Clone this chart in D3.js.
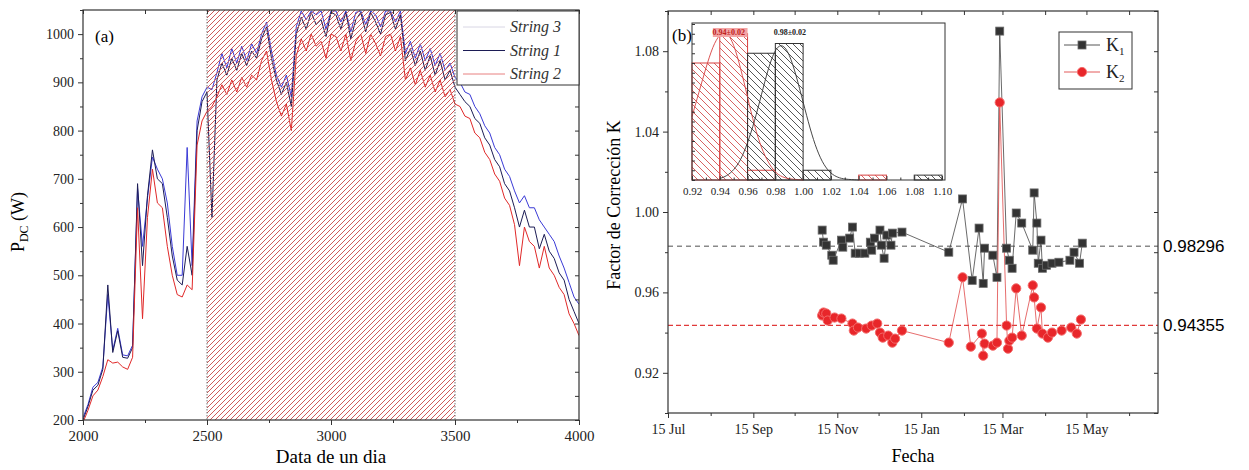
<!DOCTYPE html>
<html><head><meta charset="utf-8">
<script src="https://cdn.jsdelivr.net/npm/d3@7"></script>
<style>body{margin:0;background:#fff} svg{display:block}</style>
</head><body><svg id="c" width="1249" height="470"></svg>
<script>
// ---------- Panel (a) data ----------
const timeStart = 2000, timeEnd = 4000, timeStep = 20;
const xTicksA = [2000, 2500, 3000, 3500, 4000];
const yTicksA = [200, 300, 400, 500, 600, 700, 800, 900, 1000];
const shadedRange = [2500, 3500];
const seriesNames = ["String 3", "String 1", "String 2"];
const string1 = [200,228,262,272,305,480,340,385,330,328,350,690,520,665,760,700,690,620,540,490,480,560,500,800,860,880,
  620,905,940,915,950,925,960,935,965,950,990,1015,950,905,875,900,850,
  1000,1035,1010,1045,1020,1030,995,1045,1040,1010,1045,990,1030,1045,1005,1045,1025,1000,1040,1045,1010,1040,
  945,970,935,965,925,955,915,945,905,925,890,
  875,860,850,825,815,785,770,740,725,690,675,640,600,635,600,600,555,585,550,535,505,490,450,425,400];
const string3 = [205,232,268,278,310,460,345,390,335,333,355,680,560,660,745,720,700,650,560,500,500,765,520,820,870,890,
  885,920,960,930,970,940,975,945,980,960,1000,1025,965,915,890,915,870,
  1015,1048,1030,1048,1040,1048,1010,1048,1048,1025,1048,1005,1045,1048,1020,1048,1040,1015,1048,1048,1025,1048,
  960,985,950,980,945,970,935,960,925,940,910,
  900,880,875,850,835,810,795,765,750,720,705,675,650,665,640,640,615,600,585,570,540,515,485,455,440];
const string2 = [195,220,250,262,290,325,318,320,310,305,330,640,410,620,720,650,640,560,500,460,455,480,470,770,820,840,
  850,870,895,875,905,880,910,890,915,905,945,965,905,860,830,855,800,
  955,990,965,1000,975,985,950,1000,995,965,1000,945,985,1000,960,1000,980,955,995,1000,965,995,
  905,930,895,925,890,915,880,905,870,885,855,
  850,830,825,795,785,755,740,710,695,660,645,605,520,600,570,560,515,560,515,500,475,460,420,400,375];

// ---------- Panel (b) data ----------
const k1Dates = ["2018-11-04","2018-11-05","2018-11-07","2018-11-11","2018-11-12","2018-11-18","2018-11-19","2018-11-24","2018-11-26","2018-11-28","2018-12-01","2018-12-05","2018-12-09","2018-12-10","2018-12-12","2018-12-16","2018-12-17","2018-12-19","2018-12-21","2018-12-24","2018-12-25","2019-01-01","2019-02-04","2019-02-14","2019-02-21","2019-02-26","2019-03-01","2019-03-02","2019-03-08","2019-03-11","2019-03-13","2019-03-18","2019-03-20","2019-03-22","2019-03-25","2019-03-29","2019-04-06","2019-04-07","2019-04-09","2019-04-10","2019-04-12","2019-04-13","2019-04-16","2019-04-20","2019-04-25","2019-05-03","2019-05-06","2019-05-10","2019-05-12"];
const k1Values = [0.991,0.985,0.9835,0.9785,0.976,0.986,0.9825,0.987,0.9925,0.9795,0.9795,0.9795,0.985,0.981,0.987,0.991,0.9835,0.977,0.9885,0.9835,0.9895,0.990,0.980,1.0065,0.966,0.992,0.9645,0.982,0.9785,0.9675,1.090,0.982,0.976,0.972,0.9995,0.9945,0.981,1.0095,0.9945,0.9745,0.986,0.972,0.9735,0.9745,0.975,0.976,0.980,0.9745,0.9845];
const k2Dates = ["2018-11-04","2018-11-05","2018-11-07","2018-11-08","2018-11-13","2018-11-18","2018-11-26","2018-11-27","2018-11-30","2018-12-06","2018-12-10","2018-12-14","2018-12-16","2018-12-18","2018-12-22","2018-12-25","2018-12-27","2019-01-01","2019-02-04","2019-02-14","2019-02-20","2019-02-28","2019-03-01","2019-03-02","2019-03-08","2019-03-11","2019-03-13","2019-03-18","2019-03-19","2019-03-20","2019-03-22","2019-03-25","2019-03-29","2019-04-06","2019-04-07","2019-04-09","2019-04-12","2019-04-13","2019-04-17","2019-04-20","2019-04-27","2019-05-04","2019-05-08","2019-05-11"];
const k2Values = [0.9485,0.950,0.9495,0.946,0.9475,0.947,0.9445,0.941,0.9425,0.942,0.9435,0.9445,0.940,0.9375,0.9385,0.935,0.937,0.941,0.935,0.9675,0.933,0.9395,0.9285,0.9345,0.9335,0.935,1.0545,0.9435,0.932,0.936,0.9375,0.962,0.9385,0.9635,0.9575,0.942,0.9525,0.9395,0.9375,0.940,0.941,0.9425,0.9395,0.9465];
const meanK1 = 0.98296, meanK2 = 0.94355;
const dateTicks = ["2018-07-15","2018-09-15","2018-11-15","2019-01-15","2019-03-15","2019-05-15"];
const dateMinor = ["2018-08-15","2018-10-15","2018-12-15","2019-02-15","2019-04-15","2019-06-15"];
const yTicksB = [0.92, 0.96, 1.00, 1.04, 1.08];
const yMinorB = [0.90, 0.94, 0.98, 1.02, 1.06, 1.10];
// inset histogram
const binStarts = [0.92,0.94,0.96,0.98,1.00,1.02,1.04,1.06,1.08];
const k1Counts = [0,0,26,28,2,0,0,0,1];
const k2Counts = [24,30,2,0,0,0,1,0,0];
const k2CurveX = [0.92,0.925,0.93,0.935,0.94,0.945,0.95,0.955,0.96,0.965,0.97,0.975,0.98,0.985,0.99,1.00];
const k2CurveY = [13,18,23,27.5,30,30.5,28,23,17,11,6.5,3.5,1.5,0.6,0.2,0];
const k1CurveX = [0.94,0.945,0.95,0.955,0.96,0.965,0.97,0.975,0.98,0.985,0.99,0.995,1.00,1.005,1.01,1.015,1.02,1.025,1.03,1.04];
const k1CurveY = [0.3,0.8,2,4,7.5,12,17.5,23,27,28,26,21.5,16,10.5,6,3,1.3,0.5,0.15,0];
const insetTicks = [0.92,0.94,0.96,0.98,1.00,1.02,1.04,1.06,1.08,1.10];

const svg = d3.select("#c");
const SERIF = "'Liberation Serif','Times New Roman',serif";
const SANS = "'Liberation Sans',Arial,sans-serif";
const defs = svg.append("defs");
defs.append("pattern").attr("id","hatchA").attr("patternUnits","userSpaceOnUse").attr("width",5).attr("height",5)
  .append("path").attr("d","M-1,1 l2,-2 M0,5 l5,-5 M4,6 l2,-2").attr("stroke","#cf5a5a").attr("stroke-width",1);
function hatchB(id, col){
  defs.append("pattern").attr("id",id).attr("patternUnits","userSpaceOnUse").attr("width",7).attr("height",7)
    .append("path").attr("d","M-1,6 l2,2 M0,0 l7,7 M6,-1 l2,2").attr("stroke",col).attr("stroke-width",0.9);
}
hatchB("hatchRed","#d45050"); hatchB("hatchBlk","#444");

function styleAxis(g, fs){
  g.select(".domain").remove();
  g.selectAll("line").attr("stroke","#333");
  g.selectAll("text").attr("font-family",SERIF).attr("font-size",fs).attr("fill","#222");
}

// ================= Panel (a) =================
const L = {l:83, r:579, t:10, b:420};
const xA = d3.scaleLinear().domain([timeStart,timeEnd]).range([L.l,L.r]);
const yA = d3.scaleLinear().domain([200,1050]).range([L.b,L.t]);
const tA = d3.range(timeStart, timeEnd+1, timeStep);

defs.append("clipPath").attr("id","clipA").append("rect").attr("x",L.l).attr("y",L.t).attr("width",L.r-L.l).attr("height",L.b-L.t);
const gA = svg.append("g").attr("clip-path","url(#clipA)");
const colorsA = {"String 3":"#3a3ad6","String 1":"#1c1c55","String 2":"#e02828"};
const dataA = {"String 3":string3,"String 1":string1,"String 2":string2};
const lineA = d3.line().x((d,i)=>xA(tA[i])).y(d=>yA(d));
["String 3","String 1","String 2"].forEach(n=>{
  gA.append("path").attr("d",lineA(dataA[n])).attr("fill","none").attr("stroke",colorsA[n]).attr("stroke-width",1);
});
gA.append("rect").attr("x",xA(shadedRange[0])).attr("y",L.t).attr("width",xA(shadedRange[1])-xA(shadedRange[0])).attr("height",L.b-L.t)
  .attr("fill","url(#hatchA)");
[shadedRange[0],shadedRange[1]].forEach(v=>{
  gA.append("line").attr("x1",xA(v)).attr("x2",xA(v)).attr("y1",L.t).attr("y2",L.b).attr("stroke","#555").attr("stroke-width",0.8).attr("stroke-dasharray","1.5,1.5");
});

// axes a
styleAxis(svg.append("g").attr("transform",`translate(0,${L.b})`).call(d3.axisBottom(xA).tickValues(xTicksA).tickSize(5).tickPadding(5).tickFormat(d3.format("d"))),15);
styleAxis(svg.append("g").attr("transform",`translate(0,${L.b})`).call(d3.axisBottom(xA).tickValues([2250,2750,3250,3750]).tickSize(3).tickFormat("")),15);
styleAxis(svg.append("g").attr("transform",`translate(${L.l},0)`).call(d3.axisLeft(yA).tickValues(yTicksA).tickSize(5).tickPadding(4).tickFormat(d3.format("d"))),14);
styleAxis(svg.append("g").attr("transform",`translate(${L.l},0)`).call(d3.axisLeft(yA).tickValues([250,350,450,550,650,750,850,950,1050]).tickSize(3).tickFormat("")),14);
styleAxis(svg.append("g").attr("transform",`translate(0,${L.t})`).call(d3.axisBottom(xA).tickValues(xTicksA.concat([2250,2750,3250,3750])).tickSize(4).tickFormat("")),14);
styleAxis(svg.append("g").attr("transform",`translate(${L.r},0)`).call(d3.axisLeft(yA).tickValues(d3.range(200,1051,50)).tickSize(4).tickFormat("")),14);
svg.append("rect").attr("x",L.l).attr("y",L.t).attr("width",L.r-L.l).attr("height",L.b-L.t).attr("fill","none").attr("stroke","#333").attr("stroke-width",1.2);

svg.append("text").attr("x",95).attr("y",42).attr("font-family",SERIF).attr("font-size",17).text("(a)");
svg.append("text").attr("x",(L.l+L.r)/2).attr("y",463).attr("text-anchor","middle").attr("font-family",SERIF).attr("font-size",19).text("Data de un dia");
const ylA = svg.append("text").attr("transform","translate(24,222) rotate(-90)").attr("text-anchor","middle").attr("font-family",SERIF).attr("font-size",18);
ylA.append("tspan").text("P");
ylA.append("tspan").attr("font-size",12).attr("dy",4).text("DC");
ylA.append("tspan").attr("dy",-4).text(" (W)");

// legend a
const lgA = svg.append("g");
lgA.append("rect").attr("x",457).attr("y",L.t+1).attr("width",L.r-457).attr("height",74).attr("fill","#fff").attr("stroke","#333").attr("stroke-width",1);
const legendLineColor = {"String 3":"#d8d6e4","String 1":"#1c1c55","String 2":"#e88080"};
seriesNames.forEach((n,i)=>{
  const y = 27 + i*23.5;
  lgA.append("line").attr("x1",463).attr("x2",505).attr("y1",y).attr("y2",y).attr("stroke",legendLineColor[n]).attr("stroke-width",1);
  lgA.append("text").attr("x",510).attr("y",y+5).attr("font-family",SERIF).attr("font-style","italic").attr("font-size",16).attr("fill","#333").text(n);
});

// ================= Panel (b) =================
const R = {l:668, r:1158, t:11, b:413};
const parse = d3.timeParse("%Y-%m-%d");
const xB = d3.scaleTime().domain([parse("2018-07-15"), parse("2019-07-06")]).range([R.l,R.r]);
const yB = d3.scaleLinear().domain([0.9,1.1]).range([R.b,R.t]);

styleAxis(svg.append("g").attr("transform",`translate(0,${R.b})`).call(d3.axisBottom(xB).tickValues(dateTicks.map(parse)).tickSize(5).tickPadding(6).tickFormat(d3.timeFormat("%-d %b"))),14);
styleAxis(svg.append("g").attr("transform",`translate(0,${R.b})`).call(d3.axisBottom(xB).tickValues(dateMinor.map(parse)).tickSize(3).tickFormat("")),14);
styleAxis(svg.append("g").attr("transform",`translate(${R.l},0)`).call(d3.axisLeft(yB).tickValues(yTicksB).tickSize(5).tickPadding(4).tickFormat(d3.format(".2f"))),14);
styleAxis(svg.append("g").attr("transform",`translate(${R.l},0)`).call(d3.axisLeft(yB).tickValues(yMinorB).tickSize(3).tickFormat("")),14);
styleAxis(svg.append("g").attr("transform",`translate(0,${R.t})`).call(d3.axisBottom(xB).tickValues(dateTicks.concat(dateMinor).map(parse)).tickSize(4).tickFormat("")),14);
styleAxis(svg.append("g").attr("transform",`translate(${R.r},0)`).call(d3.axisLeft(yB).tickValues(yTicksB.concat(yMinorB)).tickSize(4).tickFormat("")),14);

// mean dashed lines
svg.append("line").attr("x1",R.l).attr("x2",R.r).attr("y1",yB(meanK1)).attr("y2",yB(meanK1)).attr("stroke","#8a8a8a").attr("stroke-width",1.4).attr("stroke-dasharray","5,4");
svg.append("line").attr("x1",R.l).attr("x2",R.r).attr("y1",yB(meanK2)).attr("y2",yB(meanK2)).attr("stroke","#e03a3a").attr("stroke-width",1.2).attr("stroke-dasharray","5,3");
svg.append("text").attr("x",1163).attr("y",yB(meanK1)+6).attr("font-family",SANS).attr("font-size",17).text(meanK1.toFixed(5));
svg.append("text").attr("x",1163).attr("y",yB(meanK2)+6).attr("font-family",SANS).attr("font-size",17).text(meanK2.toFixed(5));

// series
const k1 = k1Dates.map((d,i)=>({d:parse(d), v:k1Values[i]}));
const k2 = k2Dates.map((d,i)=>({d:parse(d), v:k2Values[i]}));
const lineB = d3.line().x(p=>xB(p.d)).y(p=>yB(p.v));
svg.append("path").attr("d",lineB(k1)).attr("fill","none").attr("stroke","#444").attr("stroke-width",0.8);
svg.append("path").attr("d",lineB(k2)).attr("fill","none").attr("stroke","#e04848").attr("stroke-width",0.8);
svg.append("g").selectAll("rect").data(k1).join("rect")
  .attr("x",p=>xB(p.d)-4).attr("y",p=>yB(p.v)-4).attr("width",8).attr("height",8)
  .attr("fill","#333").attr("stroke","#6a6a6a").attr("stroke-width",0.8);
svg.append("g").selectAll("circle").data(k2).join("circle")
  .attr("cx",p=>xB(p.d)).attr("cy",p=>yB(p.v)).attr("r",4.6)
  .attr("fill","#e8262a").attr("stroke","#f46a6a").attr("stroke-width",1);

svg.append("rect").attr("x",R.l).attr("y",R.t).attr("width",R.r-R.l).attr("height",R.b-R.t).attr("fill","none").attr("stroke","#333").attr("stroke-width",1.2);

svg.append("text").attr("x",672).attr("y",41).attr("font-family",SERIF).attr("font-size",17).text("(b)");
svg.append("text").attr("x",(R.l+R.r)/2).attr("y",462).attr("text-anchor","middle").attr("font-family",SERIF).attr("font-size",18).text("Fecha");
svg.append("text").attr("transform","translate(620,205) rotate(-90)").attr("text-anchor","middle").attr("font-family",SERIF).attr("font-size",18).text("Factor de Corrección K");

// legend b
const lgB = svg.append("g");
lgB.append("rect").attr("x",1059).attr("y",32).attr("width",73).attr("height",57).attr("fill","#fff").attr("stroke","#333").attr("stroke-width",1);
[["1","#444","sq"],["2","#e04848","ci"]].forEach((e,i)=>{
  const y = 45 + i*27;
  lgB.append("line").attr("x1",1064).attr("x2",1100).attr("y1",y).attr("y2",y).attr("stroke",e[1]).attr("stroke-width",0.9);
  if(e[2]==="sq") lgB.append("rect").attr("x",1078).attr("y",y-4).attr("width",8).attr("height",8).attr("fill","#333").attr("stroke","#6a6a6a").attr("stroke-width",0.8);
  else lgB.append("circle").attr("cx",1082).attr("cy",y).attr("r",4.6).attr("fill","#e8262a").attr("stroke","#f46a6a");
  const t = lgB.append("text").attr("x",1106).attr("y",y+6).attr("font-family",SERIF).attr("font-size",18).attr("fill","#222");
  t.append("tspan").text("K");
  t.append("tspan").attr("font-size",11).attr("dy",4).text(e[0]);
});

// ---------- inset ----------
const I = {l:692, r:945, t:23, b:180};
const xI = d3.scaleLinear().domain([0.92,1.10]).range([I.l,942]);
const yI = d3.scaleLinear().domain([0,32]).range([I.b,I.t+1]);
svg.append("rect").attr("x",I.l).attr("y",I.t).attr("width",I.r-I.l).attr("height",I.b-I.t).attr("fill","#fff");
const gI = svg.append("g");
function bars(counts, pat, stroke){
  binStarts.forEach((b,i)=>{
    if(!counts[i]) return;
    gI.append("rect").attr("x",xI(b)).attr("y",yI(counts[i])).attr("width",xI(b+0.02)-xI(b)).attr("height",yI(0)-yI(counts[i]))
      .attr("fill",`url(#${pat})`).attr("stroke",stroke).attr("stroke-width",1);
  });
}
bars(k2Counts,"hatchRed","#d84040");
bars(k1Counts,"hatchBlk","#333");
const curveI = d3.line().curve(d3.curveBasis);
gI.append("path").attr("d",curveI(k2CurveX.map((x,i)=>[xI(x),yI(k2CurveY[i])]))).attr("fill","none").attr("stroke","#d84040").attr("stroke-width",0.9);
gI.append("path").attr("d",curveI(k1CurveX.map((x,i)=>[xI(x),yI(k1CurveY[i])]))).attr("fill","none").attr("stroke","#333").attr("stroke-width",0.9);
gI.append("rect").attr("x",xI(0.935)).attr("y",28).attr("width",xI(0.96)-xI(0.935)).attr("height",9).attr("fill","#f3a6a6");
gI.append("text").attr("x",xI(0.9465)).attr("y",35).attr("text-anchor","middle").attr("font-family",SERIF).attr("font-size",8).attr("font-weight","bold").attr("fill","#c02020").text("0.94±0.02");
gI.append("text").attr("x",xI(0.9905)).attr("y",35).attr("text-anchor","middle").attr("font-family",SERIF).attr("font-size",8).attr("font-weight","bold").attr("fill","#222").text("0.98±0.02");
const axI = svg.append("g").attr("transform",`translate(0,${I.b})`).call(d3.axisBottom(xI).tickValues(insetTicks).tickSize(3).tickPadding(4).tickFormat(d3.format(".2f")));
axI.selectAll(".tick line").attr("y1",-4).attr("y2",0);
styleAxis(axI,11);
const axI2 = svg.append("g").attr("transform",`translate(0,${I.b})`).call(d3.axisBottom(xI).tickValues([0.93,0.95,0.97,0.99,1.01,1.03,1.05,1.07,1.09]).tickSize(0).tickFormat(""));
axI2.selectAll(".tick line").attr("y1",-2.5).attr("y2",0);
styleAxis(axI2,11);
const axI3 = svg.append("g").attr("transform",`translate(${I.l},0)`).call(d3.axisRight(yI).tickValues(d3.range(0,33,2)).tickSize(3).tickFormat(""));
styleAxis(axI3,11);
svg.append("rect").attr("x",I.l).attr("y",I.t).attr("width",I.r-I.l).attr("height",I.b-I.t).attr("fill","none").attr("stroke","#333").attr("stroke-width",1);
</script></body></html>
